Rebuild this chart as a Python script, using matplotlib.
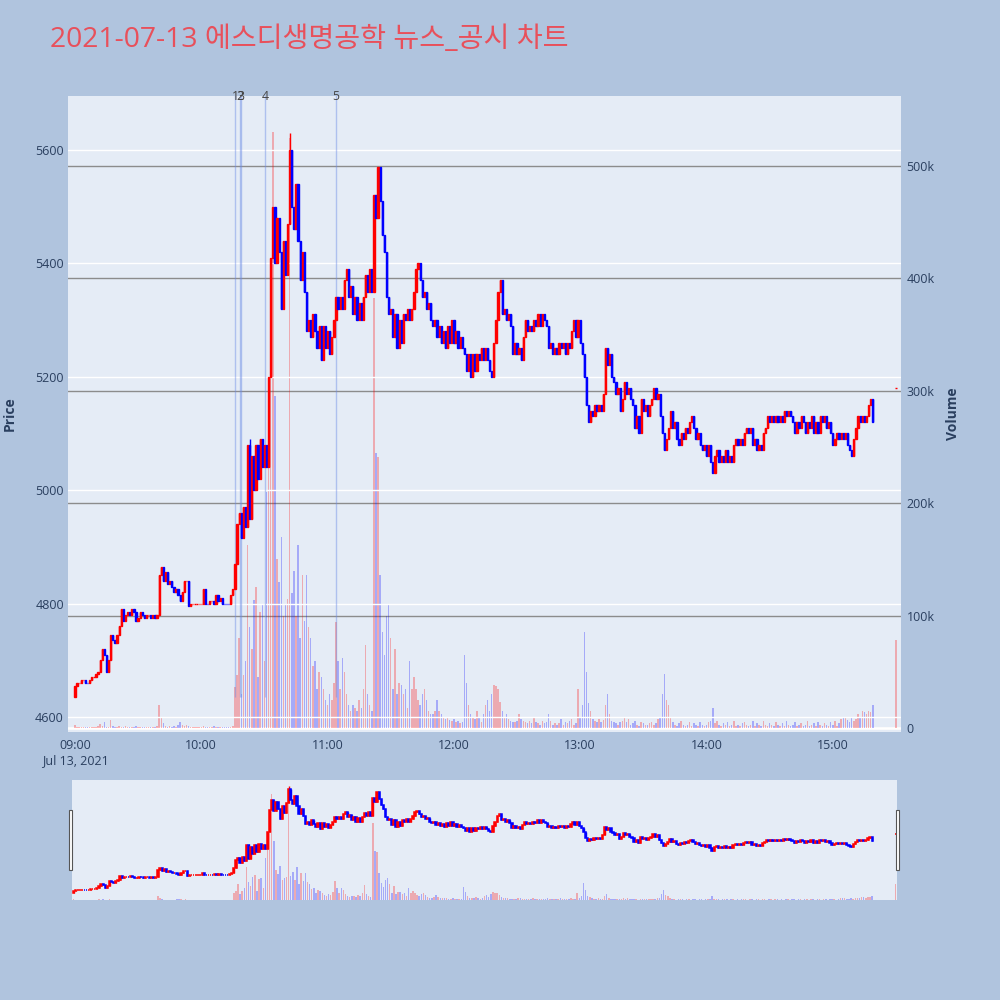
#!/usr/bin/env python3
"""Intraday candlestick + volume chart with news markers and a range slider."""

import matplotlib

matplotlib.use("Agg")
import matplotlib.pyplot as plt
import numpy as np
from matplotlib.patches import Rectangle
from matplotlib.transforms import blended_transform_factory

plt.rcParams["font.family"] = ["Open Sans", "Noto Sans CJK KR", "DejaVu Sans"]

BG = "#B0C4DE"
PLOT_BG = "#E5ECF6"
TEXT = "#2a3f5f"
UP = "#FF0000"
DOWN = "#0000FF"

TITLE = "2021-07-13 에스디생명공학 뉴스_공시 차트"
DATE_LABEL = "Jul 13, 2021"

# one candle per minute from 09:00 (minute 0)
FIRST_OPEN = 4635
CLOSE = [
    4655, 4660, 4660, 4665, 4665, 4660, 4660, 4665, 4670, 4670,
    4675, 4680, 4700, 4720, 4710, 4680, 4700, 4745, 4735, 4730,
    4745, 4760, 4790, 4770, 4780, 4785, 4780, 4790, 4785, 4770,
    4775, 4785, 4780, 4775, 4780, 4780, 4775, 4780, 4775, 4780,
    4850, 4865, 4840, 4855, 4835, 4840, 4830, 4820, 4825, 4815,
    4805, 4820, 4840, 4840, 4795, 4800, 4800, 4800, 4800, 4800,
    4800, 4825, 4800, 4800, 4805, 4805, 4800, 4815, 4805, 4810,
    4800, 4800, 4800, 4800, 4815, 4825, 4870, 4940, 4960, 4915,
    4970, 4935, 5080, 4950, 5060, 5000, 5080, 5020, 5090, 5040,
    5080, 5040, 5200, 5410, 5500, 5400, 5480, 5420, 5320, 5440,
    5380, 5470, 5600, 5500, 5460, 5540, 5440, 5370, 5420, 5350,
    5280, 5300, 5270, 5310, 5280, 5250, 5290, 5230, 5290, 5250,
    5280, 5240, 5270, 5300, 5340, 5320, 5340, 5320, 5370, 5390,
    5340, 5360, 5310, 5340, 5300, 5330, 5300, 5340, 5380, 5350,
    5390, 5350, 5520, 5480, 5570, 5510, 5450, 5420, 5340, 5310,
    5320, 5270, 5310, 5250, 5300, 5260, 5310, 5300, 5320, 5300,
    5320, 5350, 5390, 5400, 5370, 5340, 5350, 5320, 5330, 5300,
    5290, 5300, 5270, 5290, 5260, 5280, 5250, 5290, 5260, 5300,
    5260, 5280, 5250, 5270, 5250, 5240, 5210, 5240, 5200, 5240,
    5210, 5240, 5230, 5250, 5230, 5250, 5230, 5210, 5200, 5260,
    5300, 5350, 5370, 5310, 5320, 5300, 5310, 5290, 5240, 5260,
    5240, 5250, 5230, 5270, 5300, 5280, 5290, 5280, 5300, 5290,
    5310, 5290, 5310, 5300, 5290, 5250, 5260, 5240, 5250, 5240,
    5260, 5250, 5260, 5240, 5260, 5250, 5280, 5300, 5270, 5300,
    5260, 5240, 5200, 5150, 5120, 5140, 5130, 5150, 5140, 5150,
    5140, 5170, 5250, 5220, 5240, 5200, 5190, 5170, 5180, 5140,
    5160, 5190, 5170, 5180, 5160, 5150, 5110, 5130, 5100, 5160,
    5140, 5150, 5130, 5150, 5160, 5180, 5160, 5170, 5130, 5100,
    5070, 5090, 5110, 5140, 5110, 5120, 5090, 5080, 5100, 5090,
    5110, 5100, 5120, 5130, 5110, 5090, 5100, 5080, 5070, 5080,
    5060, 5080, 5050, 5030, 5060, 5070, 5050, 5060, 5050, 5070,
    5050, 5060, 5050, 5080, 5090, 5080, 5090, 5080, 5100, 5110,
    5100, 5110, 5080, 5090, 5070, 5080, 5070, 5100, 5110, 5130,
    5120, 5130, 5120, 5130, 5120, 5130, 5120, 5140, 5130, 5140,
    5130, 5120, 5100, 5120, 5110, 5130, 5120, 5100, 5120, 5110,
    5130, 5100, 5120, 5100, 5130, 5120, 5130, 5110, 5120, 5100,
    5080, 5090, 5100, 5090, 5100, 5090, 5100, 5080, 5070, 5060,
    5090, 5110, 5130, 5120, 5130, 5120, 5130, 5150, 5160, 5120,
]
VOLUME_K = [
    3, 1, 0.5, 1, 0.5, 0.5, 1, 0.5, 1, 1,
    1, 2, 3.5, 2, 5, 1, 1, 7, 2, 1,
    1, 2, 1, 1, 2, 1, 0.5, 1, 1, 2,
    1, 1, 0.5, 1, 0.5, 1, 0.5, 0.5, 1, 2,
    20, 9, 4, 2, 1, 2, 1, 2, 1, 3,
    5, 3, 2, 3, 2, 1, 0.5, 0.5, 0.5, 0.5,
    0.5, 2, 1, 0.5, 0.5, 0.5, 1.5, 1, 0.5, 0.5,
    0.5, 0.5, 0.5, 0.5, 1, 2, 36, 47, 80, 30,
    47, 60, 163, 90, 70, 114, 125, 45, 103, 110,
    60, 210, 295, 360, 530, 295, 150, 130, 170, 100,
    110, 115, 525, 120, 140, 100, 163, 80, 136, 95,
    136, 90, 80, 55, 60, 35, 50, 45, 35, 25,
    20, 30, 25, 40, 94, 60, 35, 62, 50, 30,
    20, 15, 20, 18, 15, 25, 18, 35, 74, 30,
    20, 15, 383, 245, 241, 136, 85, 65, 100, 110,
    80, 35, 70, 30, 40, 38, 30, 35, 18, 60,
    35, 45, 35, 25, 20, 30, 35, 25, 15, 12,
    12, 15, 25, 15, 12, 10, 8, 10, 7, 6,
    8, 5, 6, 4, 5, 65, 40, 20, 12, 10,
    8, 15, 10, 5, 12, 20, 25, 15, 30, 38,
    37, 35, 23, 15, 10, 12, 8, 6, 5, 5,
    6, 12, 8, 6, 5, 4, 6, 4, 10, 5,
    4, 3, 6, 4, 5, 12, 6, 3, 4, 3,
    4, 8, 3, 5, 4, 6, 8, 3, 4, 35,
    10, 20, 85, 50, 22, 15, 8, 6, 5, 8,
    5, 7, 20, 30, 12, 6, 5, 4, 3, 5,
    6, 10, 5, 8, 3, 4, 6, 3, 2, 5,
    4, 3, 3, 4, 5, 3, 4, 8, 10, 30,
    48, 25, 20, 10, 5, 3, 2, 4, 6, 3,
    2, 3, 5, 2, 4, 3, 2, 5, 3, 2,
    3, 5, 6, 18, 4, 6, 3, 2, 4, 3,
    5, 2, 3, 6, 2, 3, 2, 4, 5, 3,
    2, 3, 6, 2, 4, 3, 2, 6, 3, 2,
    4, 3, 2, 5, 3, 2, 4, 2, 6, 3,
    2, 3, 5, 2, 3, 4, 2, 3, 6, 2,
    3, 4, 2, 5, 3, 2, 4, 3, 2, 5,
    3, 6, 2, 4, 8, 10, 9, 7, 5, 10,
    6, 8, 12, 10, 15, 14, 12, 15, 14, 20,
]

# closing auction print at 15:30
AUCTION_MINUTE = 390
AUCTION_PRICE = 5180
AUCTION_VOLUME_K = 78

# wicks that stick out of the bodies
WICK_MINUTES = [83, 102, 144]
WICK_HIGHS = [5090, 5630, 5570]

# news / disclosure markers (minutes after 09:00)
NEWS_MINUTES = [76.0, 78.4, 78.9, 90.3, 124.0]
NEWS_LABELS = ["1", "2", "3", "4", "5"]
NEWS_BASE = 4635

PRICE_TICKS = [4600, 4800, 5000, 5200, 5400, 5600]
VOLUME_TICKS = [0, 100_000, 200_000, 300_000, 400_000, 500_000]
VOLUME_TICK_LABELS = ["0", "100k", "200k", "300k", "400k", "500k"]
HOUR_TICKS = [0, 60, 120, 180, 240, 300, 360]
HOUR_LABELS = ["09:00\n" + DATE_LABEL, "10:00", "11:00", "12:00", "13:00", "14:00", "15:00"]


def build_candles():
    minutes = np.r_[np.arange(len(CLOSE)), AUCTION_MINUTE].astype(float)
    close = np.r_[CLOSE, AUCTION_PRICE].astype(float)
    volume = np.r_[VOLUME_K, AUCTION_VOLUME_K].astype(float) * 1000
    opens = close.copy()
    opens[0] = FIRST_OPEN
    for i in range(1, len(close)):
        if minutes[i] - minutes[i - 1] == 1:
            opens[i] = close[i - 1]
    highs = np.maximum(opens, close)
    lows = np.minimum(opens, close)
    for m, h in zip(WICK_MINUTES, WICK_HIGHS):
        highs[m] = max(highs[m], h)

    # plotly rule: flat candles take direction from the previous close
    colors = []
    prev_dir = 1
    for i, (o, c) in enumerate(zip(opens, close)):
        if c > o:
            d = 1
        elif c < o:
            d = -1
        else:
            pc = close[i - 1] if i else o
            d = 1 if c > pc else (-1 if c < pc else prev_dir)
        prev_dir = d
        colors.append(UP if d > 0 else DOWN)
    return minutes, opens, highs, lows, close, volume, colors


def draw_traces(ax_vol, ax_price, data, body_w, body_lw, vol_w):
    minutes, opens, highs, lows, close, volume, colors = data
    ax_vol.bar(minutes, volume, width=vol_w, color=colors, alpha=0.28, linewidth=0, zorder=2)
    body_lo = np.minimum(opens, close)
    body_h = np.abs(close - opens)
    ax_price.vlines(minutes, lows, highs, colors=colors, linewidth=1.0, zorder=3)
    ax_price.bar(minutes, body_h, bottom=body_lo, width=body_w, color=colors,
                 edgecolor=colors, linewidth=body_lw, zorder=4)


def main() -> int:
    data = build_candles()

    fig = plt.figure(figsize=(10, 10), dpi=100, facecolor=BG)

    # main panel: volume axis underneath, price axis on top
    ax_vol = fig.add_axes([0.068, 0.268, 0.833, 0.636])
    ax_vol.set_facecolor(PLOT_BG)
    ax_price = ax_vol.twinx()
    ax_price.patch.set_visible(False)

    draw_traces(ax_vol, ax_price, data, body_w=0.6, body_lw=1.0, vol_w=0.7)

    ax_vol.set_xlim(-3.3, 392.4)
    ax_vol.set_ylim(-3_600, 562_300)
    ax_price.set_ylim(4573.5, 5695.2)

    ax_vol.yaxis.tick_right()
    ax_vol.yaxis.set_label_position("right")
    ax_price.yaxis.tick_left()
    ax_price.yaxis.set_label_position("left")

    ax_vol.set_yticks(VOLUME_TICKS)
    ax_vol.set_yticklabels(VOLUME_TICK_LABELS)
    ax_price.set_yticks(PRICE_TICKS)
    ax_vol.set_xticks(HOUR_TICKS)
    ax_vol.set_xticklabels(HOUR_LABELS)

    ax_vol.grid(axis="y", color="#8c8c8c", linewidth=1.0, zorder=1)
    ax_vol.set_axisbelow(True)
    ax_vol.axhline(0, color="white", linewidth=2.0, zorder=1)
    ax_price.grid(axis="y", color="white", linewidth=1.0)
    ax_price.set_axisbelow(True)

    for ax in (ax_vol, ax_price):
        for spine in ax.spines.values():
            spine.set_visible(False)
        ax.tick_params(length=0, labelsize=9, labelcolor=TEXT)
    ax_vol.tick_params(axis="y", pad=4)
    ax_price.tick_params(axis="y", pad=3)
    ax_vol.tick_params(axis="x", pad=5)

    # news markers
    ax_price.vlines(NEWS_MINUTES, NEWS_BASE, 5800, colors="#6b8be6", alpha=0.45,
                    linewidth=1.0, zorder=2)
    trans = blended_transform_factory(ax_price.transData, ax_price.transAxes)
    for m, lbl in zip(NEWS_MINUTES, NEWS_LABELS):
        ax_price.text(m, 1.0, lbl, transform=trans, ha="center", va="center",
                      fontsize=8.8, color="#444444", zorder=6)

    fig.text(0.010, 0.586, "Price", rotation=90, ha="center", va="center",
             fontsize=10, fontweight="bold", color=TEXT)
    fig.text(0.953, 0.586, "Volume", rotation=90, ha="center", va="center",
             fontsize=10, fontweight="bold", color=TEXT)
    fig.text(0.050, 0.960, TITLE, ha="left", va="center", fontsize=20.3, color="#E8505B")

    # range slider
    ax_s = fig.add_axes([0.072, 0.100, 0.825, 0.120])
    ax_s.set_facecolor(PLOT_BG)
    ax_s2 = ax_s.twinx()
    ax_s2.patch.set_visible(False)
    draw_traces(ax_s, ax_s2, data, body_w=0.6, body_lw=1.1, vol_w=0.7)
    ax_s.set_xlim(-0.8, 390.8)
    ax_s.set_ylim(0, 600_000)
    ax_s2.set_ylim(4570, 5686)
    for ax in (ax_s, ax_s2):
        ax.set_xticks([])
        ax.set_yticks([])
        for spine in ax.spines.values():
            spine.set_visible(False)

    for x0 in (0.0685, 0.8955):
        fig.add_artist(Rectangle((x0, 0.130), 0.0035, 0.060, transform=fig.transFigure,
                                 facecolor="white", edgecolor="#555555", linewidth=0.8))

    fig.savefig("out.png", dpi=100, facecolor=BG)
    plt.close(fig)
    return 0


if __name__ == "__main__":
    raise SystemExit(main())
